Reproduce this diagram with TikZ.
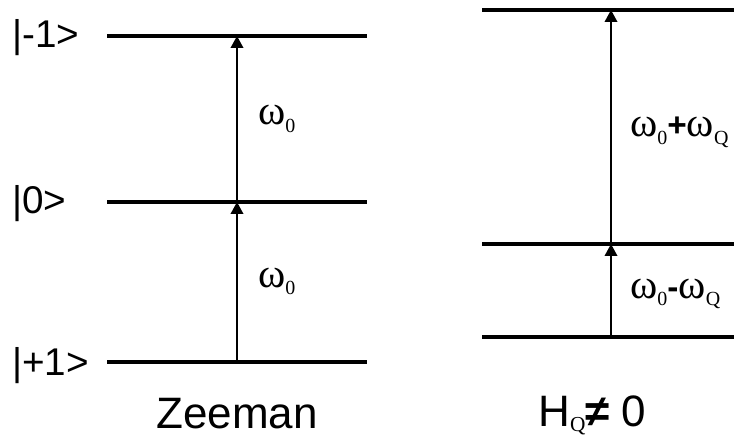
\documentclass[tikz,border=0pt]{standalone}
\usepackage{fontspec}
\setmainfont{Liberation Sans}
\newfontfamily\grkfont{Liberation Serif}
\usetikzlibrary{arrows.meta,positioning}
% omega with a small serif subscript
\newcommand{\omg}[1]{{\grkfont\fontsize{31}{31}\selectfont ω\raisebox{-0.4ex}{\fontsize{15}{15}\selectfont #1}}}
\newcommand{\subQ}{\raisebox{-0.25ex}{\grkfont\fontsize{16}{16}\selectfont Q}}

\begin{document}
\begin{tikzpicture}[x=0.75pt,y=-0.75pt,
  level/.style={line width=3pt},
  trans/.style={line width=1.1pt,-{Triangle[length=9pt,width=9.5pt]}},
  ket/.style={font=\fontsize{29}{29}\selectfont,anchor=base west,inner sep=0pt},
  freq/.style={font=\fontsize{25}{25}\selectfont,anchor=base west,inner sep=0pt},
  title/.style={font=\fontsize{33}{33}\selectfont,inner sep=0pt}]
\useasboundingbox (0,0) rectangle (734,441);

% Zeeman levels
\draw[level] (107,36) -- (367,36);
\draw[level] (107,202) -- (367,202);
\draw[level] (107,362) -- (367,362);
\coordinate (zm) at (237,36);
\coordinate (zz) at (237,202);
\coordinate (zp) at (237,362);
\draw[trans] (zp) -- (zz);
\draw[trans] (zz) -- (zm);

\node[ket] (km) at (12,48) {|-1>};
\node[ket] (kz) at (12,214) {|0>};
\node[ket] (kp) at (12,375) {|+1>};
\node[freq] (wz1) at (258,125) {\omg{0}};
\node[freq] (wz2) at (258,287) {\omg{0}};
\node[title,anchor=base] (zee) at (237,428) {Zeeman};

% quadrupolar levels
\draw[level] (482,10) -- (734,10);
\draw[level] (482,244) -- (734,244);
\draw[level] (482,337) -- (734,337);
\coordinate (qm) at (611,10);
\coordinate (qz) at (611,244);
\coordinate (qp) at (611,337);
\draw[trans] (qp) -- (qz);
\draw[trans] (qz) -- (qm);

\node[freq] (wq1) at (630,137) {\omg{0}\textbf{+}\omg{Q}};
\node[freq] (wq2) at (630,298) {\omg{0}\textbf{-}\omg{Q}};
\node[title,anchor=base west] (hq) at (538,426) {H\subQ{\bfseries ≠}\ 0};
\end{tikzpicture}
\end{document}
